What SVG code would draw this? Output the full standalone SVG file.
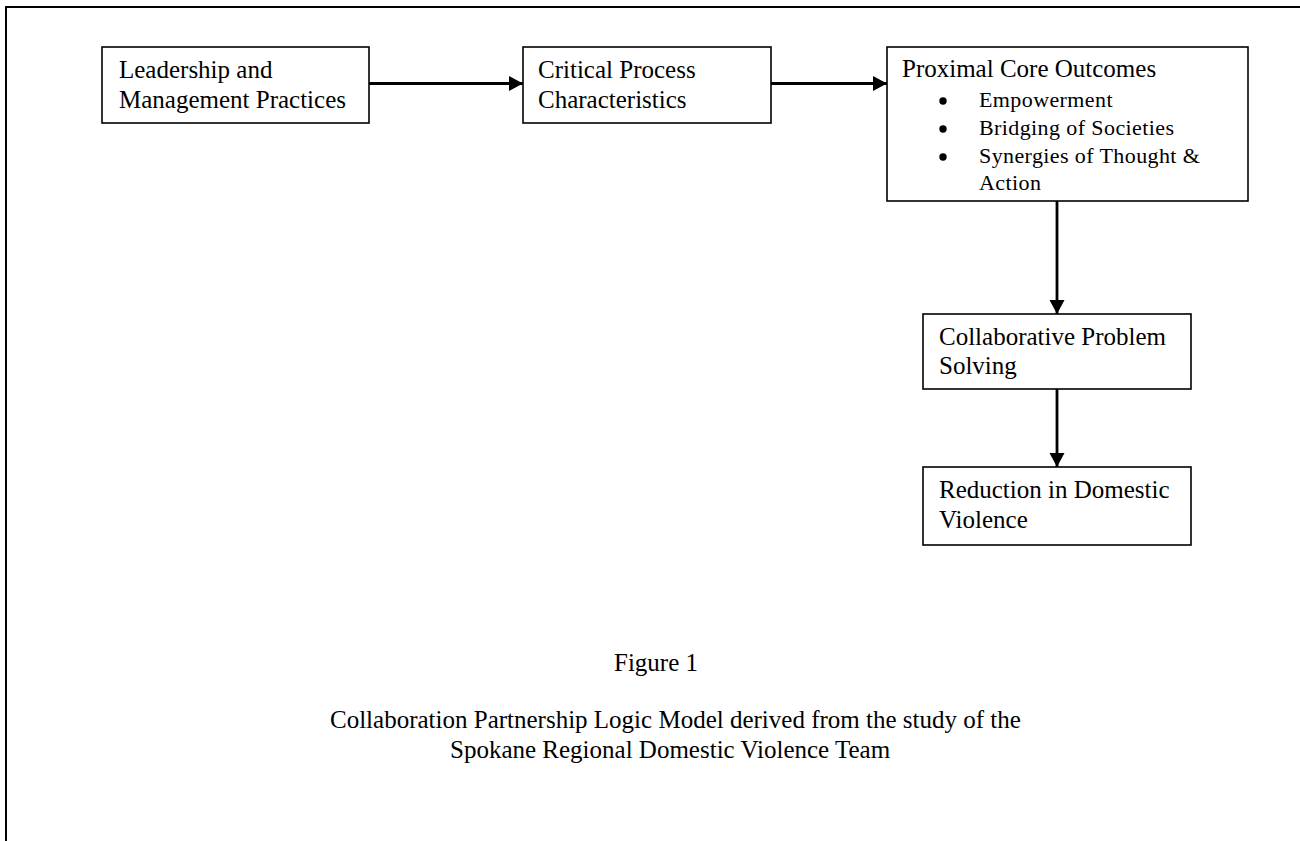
<svg xmlns="http://www.w3.org/2000/svg" width="1300" height="841" viewBox="0 0 1300 841">
<defs>
<style>
.box{fill:#fff;stroke:#000;stroke-width:1.6}
.t{font-family:"Liberation Serif","Times New Roman",serif;font-size:25px;fill:#000}
.b{font-family:"Liberation Serif","Times New Roman",serif;font-size:22px;letter-spacing:0.4px;fill:#000}
.dot{fill:#000}
.edge{stroke:#000;stroke-width:2.8;fill:none}
.frame{stroke:#000;stroke-width:2;fill:none}
</style>
<marker id="ah" markerUnits="userSpaceOnUse" markerWidth="15" markerHeight="16" refX="14" refY="8" orient="auto">
<path d="M0,0.5 L14,8 L0,15.5 Z" fill="#000"/>
</marker>
</defs>
<rect width="1300" height="841" fill="#fff"/>
<path class="frame" d="M6,841 V7 H1300"/>
<g id="edges">
<line class="edge" x1="369" y1="83.5" x2="523" y2="83.5" marker-end="url(#ah)"/>
<line class="edge" x1="771" y1="83.5" x2="887" y2="83.5" marker-end="url(#ah)"/>
<line class="edge" x1="1057" y1="201" x2="1057" y2="314" marker-end="url(#ah)"/>
<line class="edge" x1="1057" y1="389" x2="1057" y2="467" marker-end="url(#ah)"/>
</g>
<g id="n1">
<rect class="box" x="102" y="47" width="267" height="76"/>
<text class="t" x="119" y="78">Leadership and</text>
<text class="t" x="119" y="108">Management Practices</text>
</g>
<g id="n2">
<rect class="box" x="523" y="47" width="248" height="76"/>
<text class="t" x="538" y="78">Critical Process</text>
<text class="t" x="538" y="108">Characteristics</text>
</g>
<g id="n3">
<rect class="box" x="887" y="47" width="361" height="154"/>
<text class="t" x="902" y="77">Proximal Core Outcomes</text>
<circle class="dot" cx="943" cy="101" r="3.7"/>
<text class="b" x="979" y="107">Empowerment</text>
<circle class="dot" cx="943" cy="129" r="3.7"/>
<text class="b" x="979" y="135">Bridging of Societies</text>
<circle class="dot" cx="943" cy="157" r="3.7"/>
<text class="b" x="979" y="163">Synergies of Thought &amp;</text>
<text class="b" x="979" y="190">Action</text>
</g>
<g id="n4">
<rect class="box" x="923" y="314" width="268" height="75"/>
<text class="t" x="939" y="345">Collaborative Problem</text>
<text class="t" x="939" y="374">Solving</text>
</g>
<g id="n5">
<rect class="box" x="923" y="467" width="268" height="78"/>
<text class="t" x="939" y="498">Reduction in Domestic</text>
<text class="t" x="939" y="528">Violence</text>
</g>
<g id="caption">
<text class="t" x="614" y="671">Figure 1</text>
<text class="t" x="330" y="728">Collaboration Partnership Logic Model derived from the study of the</text>
<text class="t" x="450" y="758">Spokane Regional Domestic Violence Team</text>
</g>
</svg>
